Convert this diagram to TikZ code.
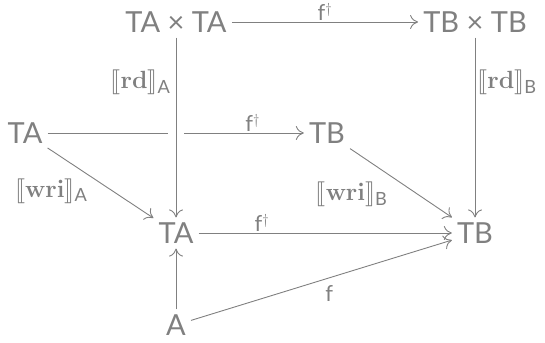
\documentclass[tikz,border=0pt]{standalone}
\usepackage{amsmath}
\usepackage{stmaryrd}
\usepackage[no-math]{fontspec}
\setmainfont{Lato}
\usetikzlibrary{arrows.meta}
\definecolor{ink}{HTML}{808080}
\tikzset{
  obj/.style={text=ink,font=\fontsize{29}{30}\selectfont,inner sep=5pt},
  lab/.style={text=ink,font=\fontsize{22}{24}\selectfont,inner sep=3pt},
  sem/.style={text=ink,font=\fontsize{26}{28}\selectfont,inner sep=2pt},
  arr/.style={draw=ink,line width=0.9pt,-{Computer Modern Rightarrow[length=8pt,width=14pt]}},
}
\newcommand{\sem}[2]{$\llbracket\mathbf{#1}\rrbracket_{\text{#2}}$}
\begin{document}
\begin{tikzpicture}[x=1pt,y=-1pt]
\useasboundingbox (0,0) rectangle (545,342);
\node[obj] (p) at (176,22) {TA × TA};
\node[obj] (q) at (475,22) {TB × TB};
\node[obj] (ta) at (25,133) {TA};
\node[obj] (tb) at (327,133) {TB};
\node[obj] (ta2) at (176,233) {TA};
\node[obj] (tb2) at (475,233) {TB};
\node[obj] (a) at (176,325) {A};
\draw[arr] (p) -- node[lab,above,inner sep=1pt]{f$^\dagger$} (q);
\draw[arr] (ta) -- node[lab,above,pos=0.8,inner sep=1pt]{f$^\dagger$} (tb);
\draw[white,line width=16pt] ([yshift=-4pt]p |- ta) -- ([yshift=4pt]p |- ta);
\draw[arr] (p) -- node[sem,left,pos=0.25,inner sep=5pt]{\sem{rd}{A}} (ta2);
\draw[arr] (q) -- node[sem,right,pos=0.25]{\sem{rd}{B}} (tb2);
\draw[arr] (ta) -- node[sem,below left,pos=0.4]{\sem{wri}{A}} (ta2);
\draw[arr] (tb) -- node[sem,below left,pos=0.45,xshift=-6pt]{\sem{wri}{B}} (tb2);
\draw[arr] (ta2) -- node[lab,above,pos=0.25,inner sep=1pt]{f$^\dagger$} (tb2);
\draw[arr] (a) -- (ta2);
\draw[arr] (a) -- node[lab,below,pos=0.53,inner sep=7pt]{f} (tb2);
\end{tikzpicture}
\end{document}
